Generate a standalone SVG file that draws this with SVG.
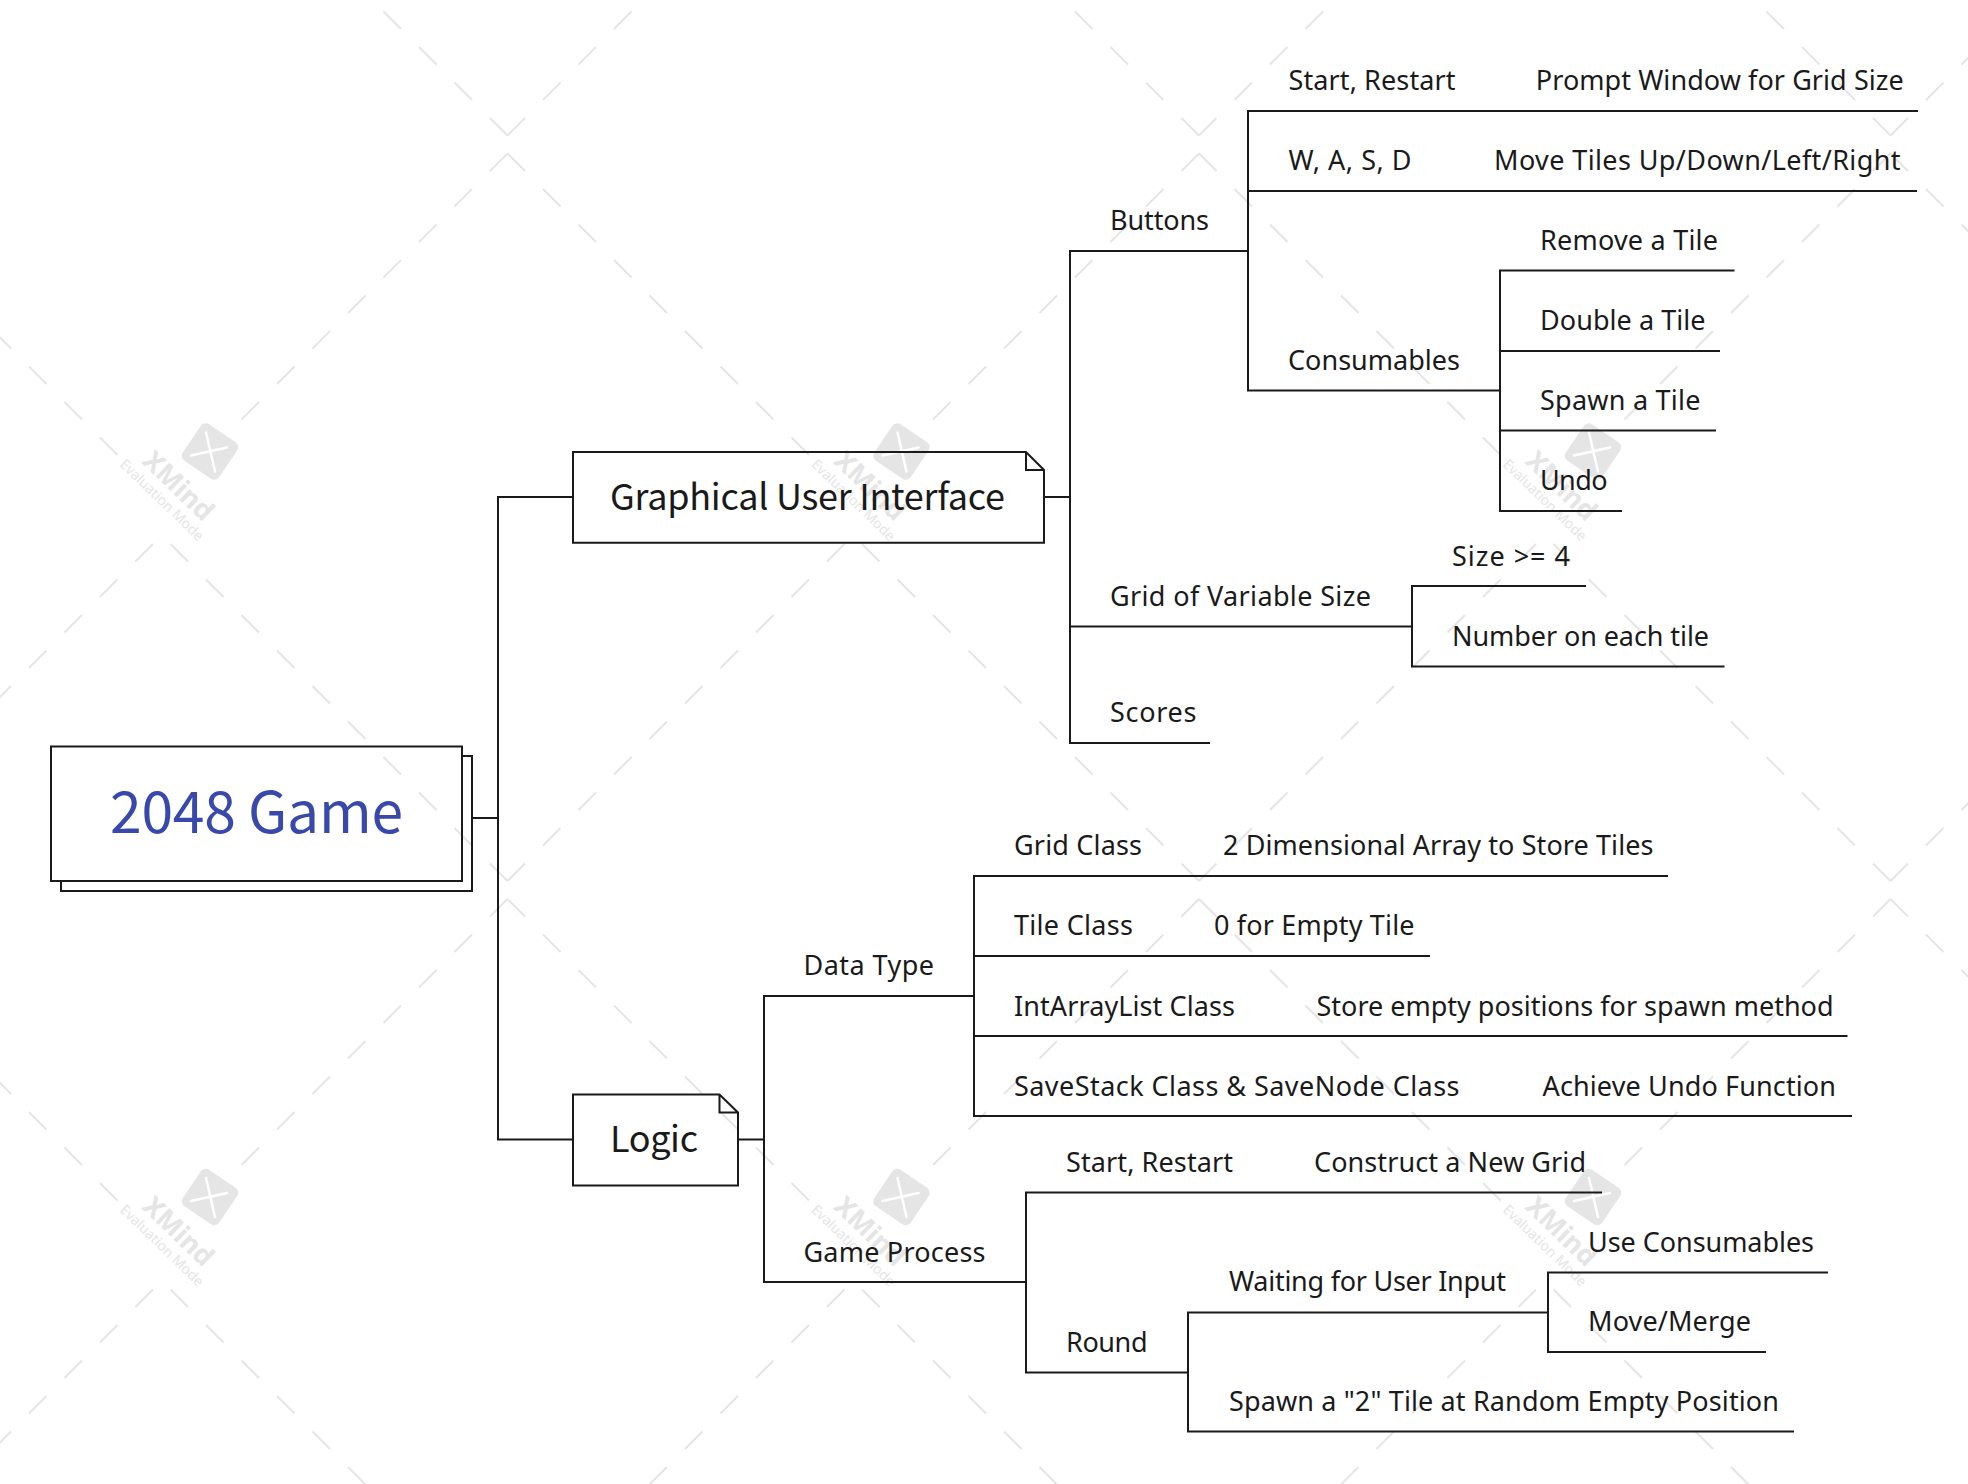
<svg xmlns="http://www.w3.org/2000/svg" width="1968" height="1484" viewBox="0 0 1968 1484">
<style>
text{font-family:"Noto Sans","Liberation Sans",sans-serif;font-size:27px;fill:#1a1a1a}
.t1{font-family:"Noto Sans CJK SC","Noto Sans",sans-serif;font-size:36px}
.t0{font-family:"Noto Sans CJK SC","Noto Sans",sans-serif;font-size:57px;fill:#3949ab}
.c{fill:none;stroke:#1a1a1a;stroke-width:2}
.d{fill:none;stroke:#e5e5e5;stroke-width:2;stroke-dasharray:24.75 25.45}
</style>
<defs>
<g id="wm">
<path class="d" d="M0 0L301.5 301.5M691.5 727.5L354.5 390.5M691.5 0L425.5 266M0 727.5L337 390.5"/>
<g transform="translate(394 298)"><rect x="-22" y="-22" width="44" height="44" rx="6" fill="#e5e5e5" transform="rotate(34)"/><path d="M-4 -19L5 20M-19 4L17 -4" fill="none" stroke="#fff" stroke-width="2.5" stroke-linecap="round"/></g>
<text x="356" y="339" text-anchor="middle" transform="rotate(44 356 339)" style="font-size:27px;font-weight:700;fill:#e5e5e5">XMind</text>
<text x="342.5" y="350" text-anchor="middle" transform="rotate(44 342.5 350)" style="font-size:14px;fill:#e5e5e5">Evaluation Mode</text>
</g>
</defs>
<g id="watermark">
<use href="#wm" x="-875.5" y="-592"/><use href="#wm" x="-184" y="-592"/><use href="#wm" x="507.5" y="-592"/><use href="#wm" x="1199" y="-592"/><use href="#wm" x="1890.5" y="-592"/>
<use href="#wm" x="-875.5" y="153.5"/><use href="#wm" x="-184" y="153.5"/><use href="#wm" x="507.5" y="153.5"/><use href="#wm" x="1199" y="153.5"/><use href="#wm" x="1890.5" y="153.5"/>
<use href="#wm" x="-875.5" y="899"/><use href="#wm" x="-184" y="899"/><use href="#wm" x="507.5" y="899"/><use href="#wm" x="1199" y="899"/><use href="#wm" x="1890.5" y="899"/>
</g>
<g id="connectors">
<path class="c" d="M472 818H498M573 497H498V1139.5H573"/>
<path class="c" d="M1044 497H1070M1248 251H1070V743H1210M1070 626.5H1412"/>
<path class="c" d="M1918 111H1248V390.5H1500M1917 191H1248"/>
<path class="c" d="M1734.5 270.5H1500V511H1622M1500 351H1720M1500 430.5H1716"/>
<path class="c" d="M1586 586H1412V666.5H1724.5"/>
<path class="c" d="M738 1139.5H764M974 996H764V1282H1026"/>
<path class="c" d="M1668 876H974V1116H1852M974 956H1430M974 1036H1847.5"/>
<path class="c" d="M1602 1192.5H1026V1372.5H1188"/>
<path class="c" d="M1548 1312.5H1188V1431.5H1794"/>
<path class="c" d="M1828 1272.5H1548V1352H1766"/>
</g>
<g id="n-root"><path class="c" d="M462 756H472V891H61V881"/><rect class="c" x="51" y="746.5" width="411" height="134.5"/><text class="t0" x="110" y="832.5" textLength="293">2048 Game</text></g>
<g id="n-gui"><path class="c" d="M573 452H1026L1044 470V542.7H573ZM1026 452V470H1044"/><text class="t1" x="610" y="510" textLength="395">Graphical User Interface</text></g>
<g id="n-logic"><path class="c" d="M573 1094.5H719.5L738 1112.5V1185.5H573ZM719.5 1094.5V1112.5H738"/><text class="t1" x="610" y="1152" textLength="88">Logic</text></g>
<g id="n-buttons"><text x="1110" y="230" textLength="99">Buttons</text></g>
<g id="n-start"><text x="1288.5" y="90" textLength="167">Start, Restart</text></g>
<g id="n-prompt"><text x="1535.8" y="90" textLength="368">Prompt Window for Grid Size</text></g>
<g id="n-wasd"><text x="1288.5" y="170" textLength="123">W, A, S, D</text></g>
<g id="n-move"><text x="1494" y="170" textLength="406.5">Move Tiles Up/Down/Left/Right</text></g>
<g id="n-cons"><text x="1288" y="370" textLength="172">Consumables</text></g>
<g id="n-remove"><text x="1540" y="250" textLength="178">Remove a Tile</text></g>
<g id="n-double"><text x="1540" y="330" textLength="165.5">Double a Tile</text></g>
<g id="n-spawn"><text x="1540" y="410" textLength="160.5">Spawn a Tile</text></g>
<g id="n-undo"><text x="1540" y="490" textLength="67.5">Undo</text></g>
<g id="n-grid"><text x="1110" y="606" textLength="261">Grid of Variable Size</text></g>
<g id="n-size"><text x="1452" y="566" textLength="118">Size &gt;= 4</text></g>
<g id="n-number"><text x="1452" y="646" textLength="257">Number on each tile</text></g>
<g id="n-scores"><text x="1110" y="722" textLength="86.5">Scores</text></g>
<g id="n-data"><text x="803.5" y="975" textLength="130.5">Data Type</text></g>
<g id="n-gridc"><text x="1014" y="855" textLength="128">Grid Class</text></g>
<g id="n-2d"><text x="1223" y="855" textLength="430.5">2 Dimensional Array to Store Tiles</text></g>
<g id="n-tilec"><text x="1014" y="935" textLength="119">Tile Class</text></g>
<g id="n-zero"><text x="1214" y="935" textLength="200.5">0 for Empty Tile</text></g>
<g id="n-intarr"><text x="1014" y="1015.5" textLength="221">IntArrayList Class</text></g>
<g id="n-store"><text x="1316.5" y="1015.5" textLength="517">Store empty positions for spawn method</text></g>
<g id="n-save"><text x="1014" y="1095.5" textLength="445.5">SaveStack Class &amp; SaveNode Class</text></g>
<g id="n-achieve"><text x="1542.5" y="1095.5" textLength="293.5">Achieve Undo Function</text></g>
<g id="n-game"><text x="803.5" y="1261.5" textLength="182">Game Process</text></g>
<g id="n-start2"><text x="1066" y="1171.5" textLength="167">Start, Restart</text></g>
<g id="n-construct"><text x="1314" y="1171.5" textLength="272">Construct a New Grid</text></g>
<g id="n-round"><text x="1066" y="1351.5" textLength="81.5">Round</text></g>
<g id="n-wait"><text x="1229" y="1291" textLength="277">Waiting for User Input</text></g>
<g id="n-use"><text x="1588" y="1251.5" textLength="226">Use Consumables</text></g>
<g id="n-merge"><text x="1588" y="1331" textLength="163">Move/Merge</text></g>
<g id="n-spawn2"><text x="1229" y="1411" textLength="550">Spawn a "2" Tile at Random Empty Position</text></g>
</svg>
